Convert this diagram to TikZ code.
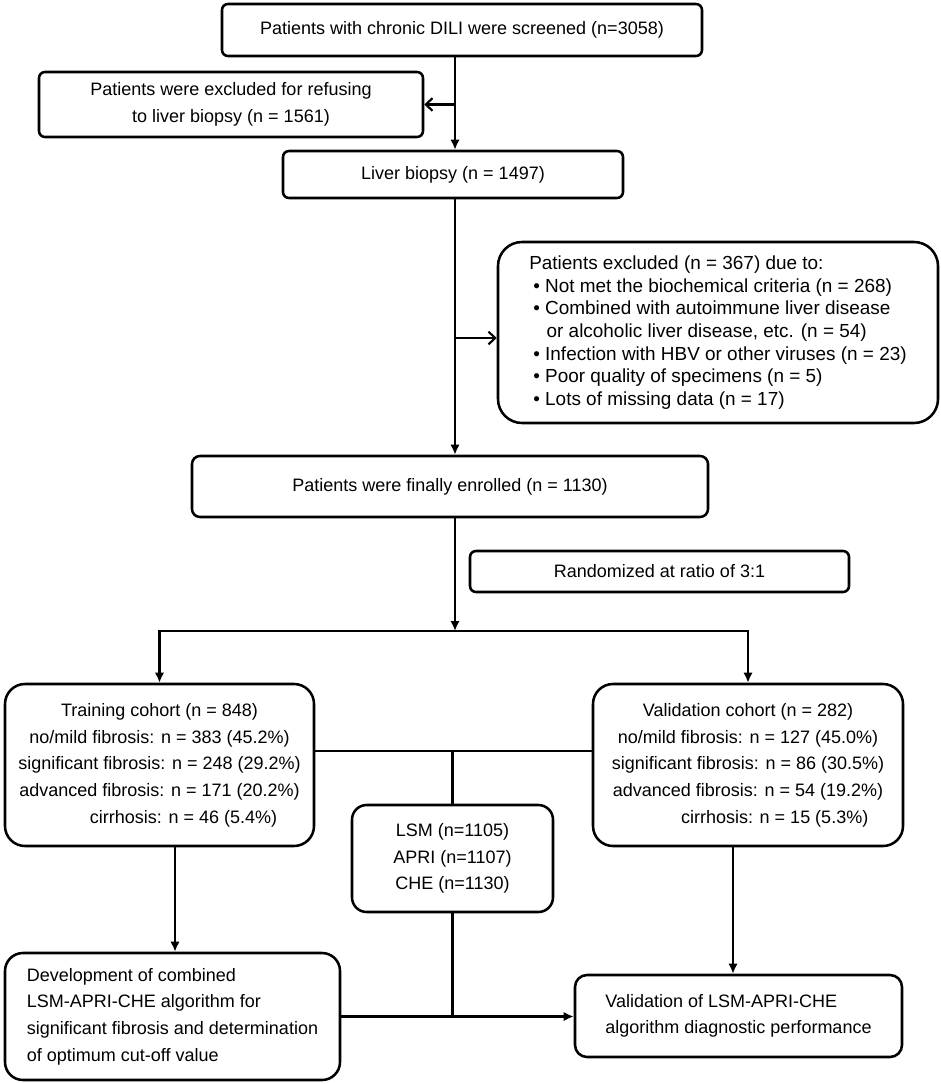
\documentclass[tikz,border=0pt]{standalone}
\usepackage{fontspec}
\setmainfont{Liberation Sans}
\usetikzlibrary{arrows.meta}

\begin{document}
\begin{tikzpicture}[x=0.75pt, y=-0.75pt,
  box/.style={draw, line width=1.9pt, rounded corners=4.5pt, inner sep=2pt, align=center, font=\fontsize{13.5}{20}\selectfont},
  flow/.style={line width=1.6pt, -{Latex[length=7.5pt,width=7pt]}},
  side/.style={line width=1.6pt, -{Straight Barb[length=5pt,width=9.5pt]}},
  plain/.style={line width=1.6pt}]
\useasboundingbox (0,0) rectangle (941,1084);

% Guide points for the connectors
\coordinate (spine) at (455,0);
\coordinate (split) at (455,631);
\coordinate (gap) at (0,338);
\coordinate (bar) at (0,751);
\coordinate (devx) at (175,0);
\coordinate (valx) at (733,0);

% Screening and exclusion
\node[box, minimum width=360pt, minimum height=39pt] (screen) at (462,30) {Patients with chronic DILI were screened (n=3058)};
\node[box, minimum width=288pt, minimum height=48.75pt] (refuse) at (231,104.5) {Patients were excluded for refusing\\to liver biopsy (n = 1561)};
\node[box, minimum width=255pt, minimum height=35.25pt] (biopsy) at (453,174.5) {Liver biopsy (n = 1497)};
\node[box, rounded corners=18pt, align=left, font=\fontsize{14.2}{17}\selectfont, minimum width=330pt, minimum height=135.75pt] (excluded) at (718,332.5) {Patients excluded (n = 367) due to:\\
\hspace*{3pt}• Not met the biochemical criteria (n = 268)\\
\hspace*{3pt}• Combined with autoimmune liver disease\\
\hspace*{13pt}or alcoholic liver disease, etc. (n = 54)\\
\hspace*{3pt}• Infection with HBV or other viruses (n = 23)\\
\hspace*{3pt}• Poor quality of specimens (n = 5)\\
\hspace*{3pt}• Lots of missing data (n = 17)};
\node[box, rounded corners=6pt, minimum width=387pt, minimum height=45.75pt] (enrolled) at (450,486.5) {Patients were finally enrolled (n = 1130)};
\node[box, minimum width=284.25pt, minimum height=30.75pt] (random) at (659.5,571.5) {Randomized at ratio of 3:1};

% Cohorts
\node[box, rounded corners=15pt, minimum width=231.75pt, minimum height=121.5pt] (training) at (159.5,765) {Training cohort (n = 848)\\no/mild fibrosis: n = 383 (45.2\%)\\significant fibrosis: n = 248 (29.2\%)\\advanced fibrosis: n = 171 (20.2\%)\\\hspace*{36pt}cirrhosis: n = 46 (5.4\%)};
\node[box, rounded corners=15pt, minimum width=232.5pt, minimum height=121.5pt] (validation) at (748,765) {Validation cohort (n = 282)\\no/mild fibrosis: n = 127 (45.0\%)\\significant fibrosis: n = 86 (30.5\%)\\advanced fibrosis: n = 54 (19.2\%)\\\hspace*{40pt}cirrhosis: n = 15 (5.3\%)};
\node[box, rounded corners=11pt, minimum width=150.75pt, minimum height=80.25pt] (markers) at (452.5,858.5) {LSM (n=1105)\\APRI (n=1107)\\CHE (n=1130)};

% Algorithm
\node[box, rounded corners=13.5pt, align=left, minimum width=251.25pt, minimum height=95.25pt] (develop) at (172.5,1016.5) {Development of combined\\LSM-APRI-CHE algorithm for\\significant fibrosis and determination\\of optimum cut-off value};
\node[box, rounded corners=9pt, align=left, minimum width=245.25pt, minimum height=61.5pt] (check) at (738.5,1016) {Validation of LSM-APRI-CHE\\algorithm diagnostic performance};

% Connectors
\draw[flow] (screen.south -| spine) -- (biopsy.north -| spine);
\draw[side] (refuse.east -| spine) -- (refuse.east);
\draw[flow] (biopsy.south -| spine) -- (enrolled.north -| spine);
\draw[side] (gap -| spine) -- (excluded.west |- gap);
\draw[flow] (enrolled.south -| spine) -- (split);
\draw[flow] (split) -| (training.north);
\draw[flow] (split) -| (validation.north);
\draw[plain] (training.east |- bar) -- (validation.west |- bar);
\draw[plain] (markers.north |- bar) -- (markers.north);
\draw[flow] (training.south -| devx) -- (develop.north -| devx);
\draw[flow] (validation.south -| valx) -- (check.north -| valx);
\draw[plain] (markers.south) -- (markers.south |- develop.east);
\draw[flow] (develop.east) -- (check.west |- develop.east);
\end{tikzpicture}
\end{document}
